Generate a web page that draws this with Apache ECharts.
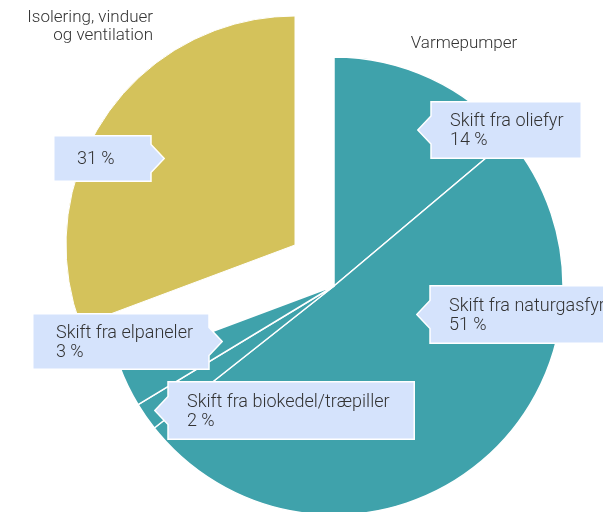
<!DOCTYPE html>
<html>
<head>
<meta charset="utf-8">
<script src="https://cdn.jsdelivr.net/npm/echarts@6/dist/echarts.min.js"></script>
<style>
  html, body { margin: 0; padding: 0; background: #fff; }
  #main { width: 603px; height: 512px; }
</style>
</head>
<body>
<div id="main"></div>
<script>
// data
const heatPumpNames = [
  "Skift fra oliefyr",
  "Skift fra naturgasfyr",
  "Skift fra biokedel/træpiller",
  "Skift fra elpaneler",
];
const heatPumpValues = [14, 51, 2, 3];
const insulationName = "Isolering, vinduer og ventilation";
const insulationValue = 31;
const groupNames = ["Varmepumper", insulationName];

const teal = "#3fa2ab";
const yellow = "#d4c25b";
const boxFill = "#d5e3fc";
const textColor = "#333";
const font = "Roboto";
const fontWeight = 300;

// callout placement: x = arrow tip (left arrow) or box left (right arrow)
const callouts = {
  "Skift fra oliefyr": { x: 417, y: 101, w: 151, h: 58, side: "left" },
  "Skift fra naturgasfyr": { x: 416, y: 285, w: 200, h: 59, side: "left" },
  "Skift fra biokedel/træpiller": { x: 154, y: 381, w: 247, h: 59, side: "left" },
  "Skift fra elpaneler": { x: 32, y: 313, w: 177, h: 57, side: "right" },
  [insulationName]: { x: 53, y: 135, w: 98, h: 47, side: "right" },
};
const ARROW = 14;
const LINE_H = 19;

function calloutImage(c) {
  const W = c.w + ARROW, H = c.h, m = H / 2, e = 0.75;
  const cv = document.createElement("canvas");
  cv.width = W;
  cv.height = H;
  const ctx = cv.getContext("2d");
  ctx.beginPath();
  if (c.side === "left") {
    ctx.moveTo(ARROW, e);
    ctx.lineTo(W - e, e);
    ctx.lineTo(W - e, H - e);
    ctx.lineTo(ARROW, H - e);
    ctx.lineTo(ARROW, m + ARROW);
    ctx.lineTo(e, m);
    ctx.lineTo(ARROW, m - ARROW);
  } else {
    ctx.moveTo(e, e);
    ctx.lineTo(c.w, e);
    ctx.lineTo(c.w, m - ARROW);
    ctx.lineTo(W - e, m);
    ctx.lineTo(c.w, m + ARROW);
    ctx.lineTo(c.w, H - e);
    ctx.lineTo(e, H - e);
  }
  ctx.closePath();
  ctx.fillStyle = boxFill;
  ctx.fill();
  ctx.strokeStyle = "#fff";
  ctx.lineWidth = 1.5;
  ctx.stroke();
  return cv;
}

function calloutLabel(name, lines) {
  const c = callouts[name];
  const padV = (c.h - lines * LINE_H) / 2;
  const padL = c.side === "left" ? ARROW + 19 : 24;
  const padR = c.side === "left" ? 6 : ARROW + 6;
  return {
    show: true,
    position: "inside",
    color: textColor,
    fontFamily: font,
    fontSize: 18,
    fontWeight: fontWeight,
    lineHeight: LINE_H,
    width: c.w + ARROW - padL - padR,
    height: lines * LINE_H,
    padding: [padV + 1, padR, padV - 1, padL],
    backgroundColor: { image: calloutImage(c) },
  };
}

function placeCallout(name) {
  const c = callouts[name];
  if (!c) return {};
  return { x: c.x, y: c.y, align: "left", verticalAlign: "top" };
}

const heatPumpTotal = heatPumpValues.reduce((a, b) => a + b, 0);
const hidden = { color: "rgba(0,0,0,0)", borderWidth: 0 };

const option = {
  animation: false,
  series: [
    {
      // heat pump slices
      type: "pie",
      center: [334, 286],
      radius: 229,
      startAngle: 90,
      avoidLabelOverlap: false,
      emphasis: { disabled: true },
      labelLine: { show: false },
      itemStyle: { color: teal, borderColor: "#fff", borderWidth: 1.5 },
      data: heatPumpNames
        .map((n, i) => ({
          name: n,
          value: heatPumpValues[i],
          label: Object.assign(calloutLabel(n, 2), {
            formatter: (p) => p.name + "\n" + p.value + " %",
          }),
        }))
        .concat([{ name: insulationName, value: insulationValue, itemStyle: hidden, label: { show: false } }]),
      labelLayout: (p) => placeCallout(heatPumpNames[p.dataIndex]),
    },
    {
      // insulation slice, pulled out
      type: "pie",
      center: [295, 245],
      radius: 229,
      startAngle: 90,
      avoidLabelOverlap: false,
      emphasis: { disabled: true },
      labelLine: { show: false },
      itemStyle: { color: yellow, borderColor: "#fff", borderWidth: 1 },
      data: [
        { name: groupNames[0], value: heatPumpTotal, itemStyle: hidden, label: { show: false } },
        {
          name: insulationName,
          value: insulationValue,
          label: Object.assign(calloutLabel(insulationName, 1), {
            formatter: (p) => p.value + " %",
          }),
        },
      ],
      labelLayout: (p) => (p.dataIndex === 1 ? placeCallout(insulationName) : {}),
    },
    {
      // group names
      type: "pie",
      center: [334, 286],
      radius: 229,
      startAngle: 90,
      silent: true,
      avoidLabelOverlap: false,
      labelLine: { show: false },
      itemStyle: hidden,
      label: {
        show: true,
        position: "inside",
        color: textColor,
        fontFamily: font,
        fontSize: 17,
        fontWeight: fontWeight,
        lineHeight: 18,
        formatter: (p) => p.name.replace(" og ", "\nog "),
      },
      data: [
        { name: groupNames[0], value: heatPumpTotal, label: { align: "center" } },
        { name: groupNames[1], value: insulationValue, label: { align: "right" } },
      ],
      labelLayout: (p) =>
        p.dataIndex === 0
          ? { x: 464, y: 35, align: "center", verticalAlign: "top" }
          : { x: 153, y: 9, align: "right", verticalAlign: "top" },
    },
  ],
};

const chart = echarts.init(document.getElementById("main"));
chart.setOption(option);
</script>
</body>
</html>
